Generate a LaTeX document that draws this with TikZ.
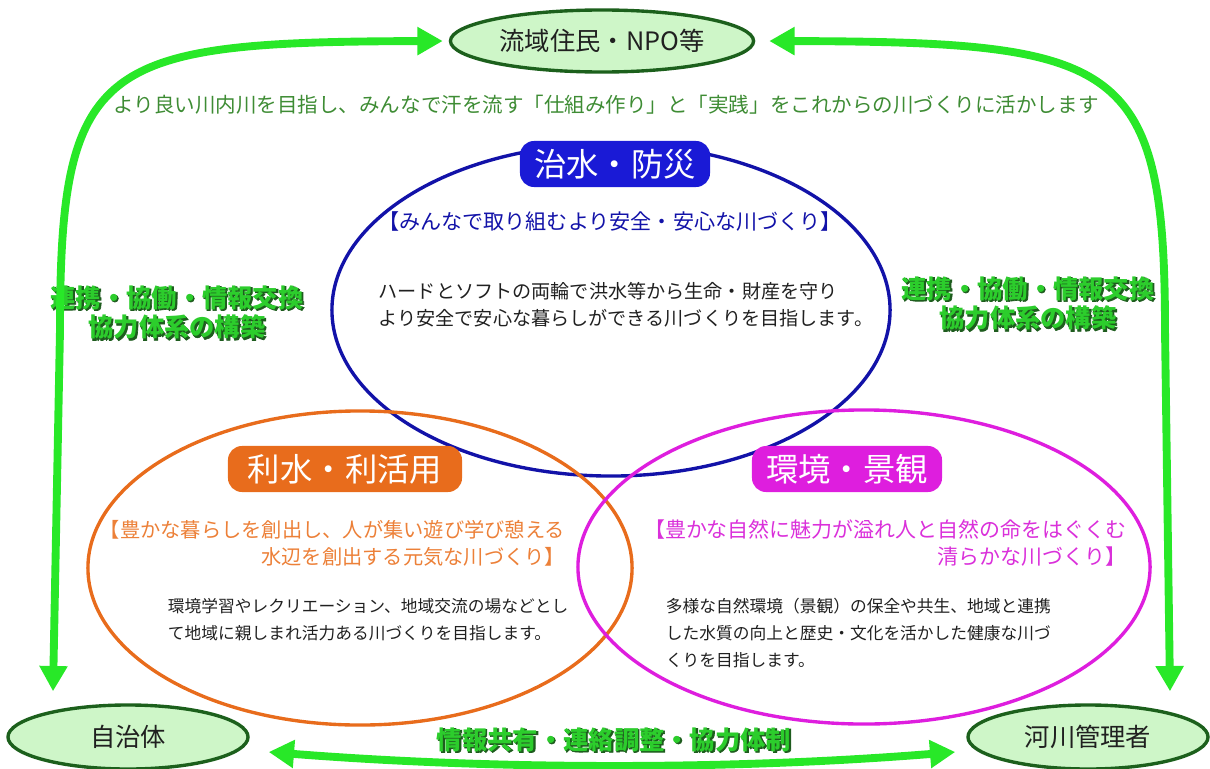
\documentclass[tikz,border=0pt]{standalone}
\usepackage{fontspec}
\setmainfont{Noto Sans CJK JP}
\newfontfamily\linkedgefont{Noto Sans CJK JP}[BoldFeatures={FakeBold=2.6}]
\usetikzlibrary{calc,shapes.geometric,arrows.meta}
\definecolor{arrowgreen}{RGB}{40,232,40}
\definecolor{partyfill}{RGB}{206,246,200}
\definecolor{partyline}{RGB}{28,96,28}
\definecolor{aimgreen}{RGB}{62,140,52}
\definecolor{linkfill}{RGB}{44,205,44}
\definecolor{linkedge}{RGB}{30,92,30}
\definecolor{notegray}{RGB}{32,32,32}
\definecolor{floodline}{RGB}{18,18,168}
\definecolor{floodfill}{RGB}{26,26,214}
\definecolor{useline}{RGB}{232,108,28}
\definecolor{usetext}{RGB}{236,128,56}
\definecolor{viewline}{RGB}{222,30,222}
\definecolor{viewtext}{RGB}{218,48,218}
% green label over a heavy dark copy (edge and shadow)
\newcommand\linkword[1]{%
  \leavevmode
  \rlap{\linkedgefont\bfseries\color{linkedge}\kern.8pt\raisebox{-.8pt}{#1}}%
  {\color{linkfill}#1}}
\tikzset{
  party/.style={ellipse,draw=partyline,fill=partyfill,line width=2.4pt,minimum width=6cm,minimum height=1.6cm,text=notegray,font=\fontsize{18pt}{20pt}\selectfont},
  theme/.style={ellipse,line width=2.4pt,inner sep=0pt},
  badge/.style={rounded corners=.35cm,text=white,minimum height=1.15cm,font=\fontsize{23pt}{25pt}\selectfont},
  motto/.style={font=\fontsize{14.4pt}{19.2pt}\selectfont},
  note/.style={text=notegray,align=left,font=\fontsize{11.9pt}{19pt}\selectfont},
  linkbox/.style={align=center,font=\bfseries\fontsize{18pt}{21.3pt}\selectfont},
  flow/.style={line width=5.6pt,draw=arrowgreen,<->,>={Triangle[length=18pt,width=19pt]}}
}
\begin{document}
\begin{tikzpicture}[x=0.025cm,y=-0.025cm]
  \useasboundingbox (0,0) rectangle (1210,769);
  % stakeholders
  \node[party,minimum width=7.5cm,minimum height=1.55cm] (residents) at (602,41) {流域住民・NPO等};
  \node[party] (jichitai) at (128,737) {自治体};
  \node[party] (kasen) at (1088,737) {河川管理者};
  % three themes
  \node[theme,draw=floodline,minimum width=13.95cm,minimum height=8.3cm] (flood) at (611,310) {};
  \node[theme,draw=useline,minimum width=13.6cm,minimum height=7.85cm] (use) at (360,568) {};
  \node[theme,draw=viewline,minimum width=14.3cm,minimum height=7.85cm] (view) at (864,567) {};
  \node[font=\fontsize{14.6pt}{18pt}\selectfont,text=aimgreen] (aim) at (606,105)
    {より良い川内川を目指し、みんなで汗を流す「仕組み作り」と「実践」をこれからの川づくりに活かします};
  % flood control
  \node[badge,fill=floodfill,minimum width=4.75cm] (floodtag) at (615,164) {治水・防災};
  \node[motto,text=floodline,font=\fontsize{15pt}{19pt}\selectfont] (floodmotto) at (610,222) {【みんなで取り組むより安全・安心な川づくり】};
  \node[note,font=\fontsize{13.6pt}{19.5pt}\selectfont] (floodnote) at (626,305)
    {ハードとソフトの両輪で洪水等から生命・財産を守り\\より安全で安心な暮らしができる川づくりを目指します。};
  % water use
  \node[badge,fill=useline,minimum width=5.85cm] (usetag) at (345,469) {利水・利活用};
  \node[motto,text=usetext,align=right,anchor=east] (usemotto) at (570,543)
    {【豊かな暮らしを創出し、人が集い遊び学び憩える\\水辺を創出する元気な川づくり】};
  \node[note,anchor=west] (usenote) at (163,620)
    {環境学習やレクリエーション、地域交流の場などとし\\て地域に親しまれ活力ある川づくりを目指します。};
  % environment
  \node[badge,fill=viewline,minimum width=4.75cm] (viewtag) at (847,469) {環境・景観};
  \node[motto,text=viewtext,align=right,anchor=east,font=\fontsize{14.9pt}{19.2pt}\selectfont] (viewmotto) at (1131,543)
    {【豊かな自然に魅力が溢れ人と自然の命をはぐくむ\\清らかな川づくり】};
  \node[note,anchor=west] (viewnote) at (661,633)
    {多様な自然環境（景観）の保全や共生、地域と連携\\した水質の向上と歴史・文化を活かした健康な川づ\\くりを目指します。};
  % cooperation labels
  \node[linkbox] (linkleft) at (177,313) {\linkword{連携・協働・情報交換}\\\linkword{協力体系の構築}};
  \node[linkbox] (linkright) at (1028,304) {\linkword{連携・協働・情報交換}\\\linkword{協力体系の構築}};
  \node[linkbox] (linkbottom) at (614,740) {\linkword{情報共有・連絡調整・協力体制}};
  % arrows
  \draw[flow] ($(residents.west)+(-6,0)$) .. controls (100,42) and (60,60) .. (60,330) -- ($(jichitai.north)+(-75,-12)$);
  \draw[flow] ($(residents.east)+(14,0)$) .. controls (1120,42) and (1165,60) .. (1165,330) -- ($(kasen.north)+(82,-12)$);
  \draw[flow] ($(jichitai.east)+(19,15)$) .. controls (500,770) and (730,770) .. ($(kasen.west)+(-11,15)$);
\end{tikzpicture}
\end{document}
